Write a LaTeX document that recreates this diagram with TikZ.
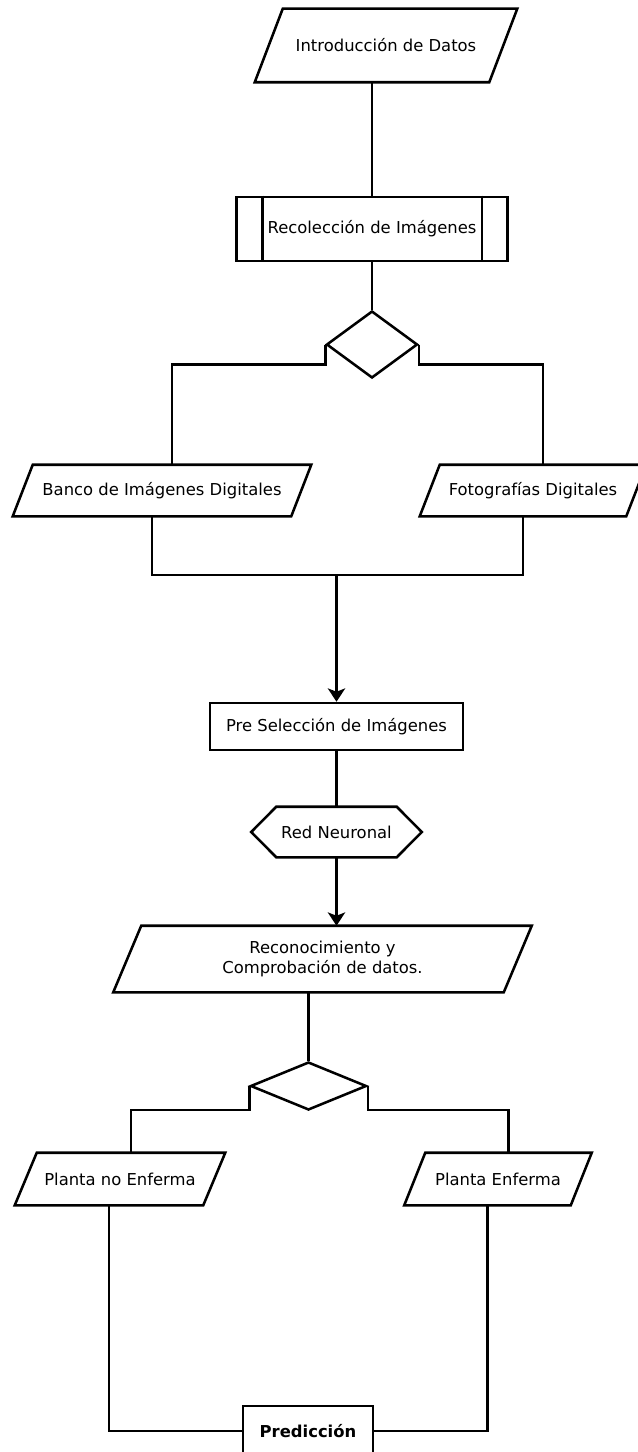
\documentclass[tikz,border=0pt]{standalone}
\usepackage{fontspec}
\setmainfont{DejaVu Sans}
\usetikzlibrary{arrows.meta,calc,shapes.geometric}

% Outline of a data (parallelogram) block around a text node, plus the
% midpoints of its top and bottom edges as name-t and name-b.
\newcommand\paraoutline[2]{%
  \draw[ln] ($(#1.north west)+(#2,0)$) -- ($(#1.north east)+(#2,0)$)
    -- ($(#1.south east)+(-#2,0)$) -- ($(#1.south west)+(-#2,0)$) -- cycle;
  \coordinate (#1-t) at ($(#1.north)+(#2,0)$);
  \coordinate (#1-b) at ($(#1.south)+(-#2,0)$);}

\begin{document}
\begin{tikzpicture}[x=0.75pt,y=-0.75pt,
  every node/.style={font=\fontsize{12.3}{15}\selectfont, inner sep=0pt, align=center},
  ln/.style={line width=1.9pt, line join=miter},
  arr/.style={ln, -{Stealth[length=10pt,width=13pt,inset=2.5pt]}},
  box/.style={draw, line width=1.9pt},
  decision/.style={draw, line width=1.9pt, shape=diamond},
]
\useasboundingbox (0,0) rectangle (638,1452);
\fill[white] (0,0) rectangle (638,1452);

% blocks
\node[minimum width=175.5pt, minimum height=54.75pt] (intro) at (386,45.5) {Introducción de Datos};
\paraoutline{intro}{14}

\node[box, minimum width=203.25pt, minimum height=48pt] (reco) at (372,229) {Recolección de Imágenes};
\draw[ln] ($(reco.north west)+(27,0)$) -- ($(reco.south west)+(27,0)$);
\draw[ln] ($(reco.north east)+(-27,0)$) -- ($(reco.south east)+(-27,0)$);

\node[decision, minimum width=68.25pt, minimum height=50.25pt] (d1) at (372,344.5) {};

\node[minimum width=208.5pt, minimum height=38.25pt] (ban) at (162,490.5) {Banco de Imágenes Digitales};
\paraoutline{ban}{10}

\node[minimum width=154.5pt, minimum height=38.25pt] (foto) at (533,490.5) {Fotografías Digitales};
\paraoutline{foto}{10}

\coordinate (j1) at (336.5,575);

\node[box, minimum width=189.75pt, minimum height=35.25pt] (pre) at (336.5,726.5) {Pre Selección de Imágenes};

\node[minimum width=127.5pt, minimum height=37.5pt] (red) at (336.5,832) {Red Neuronal};
\draw[ln] (red.west) -- ($(red.north west)+(25,0)$) -- ($(red.north east)+(-25,0)$)
  -- (red.east) -- ($(red.south east)+(-25,0)$) -- ($(red.south west)+(25,0)$) -- cycle;

\node[minimum width=292.5pt, minimum height=49.5pt] (rec) at (322.5,959) {Reconocimiento y\\Comprobación de datos.};
\paraoutline{rec}{14}

\node[decision, minimum width=87pt, minimum height=36pt] (d2) at (308.5,1086) {};

\node[minimum width=141pt, minimum height=39pt] (pno) at (120,1179) {Planta no Enferma};
\paraoutline{pno}{11}

\node[minimum width=124.5pt, minimum height=39pt] (pen) at (498,1179) {Planta Enferma};
\paraoutline{pen}{10.5}

\node[box, minimum width=97.5pt, minimum height=37.5pt, font=\fontsize{12.3}{15}\selectfont\bfseries] (pred) at (308,1431) {Predicción};

% connectors
\draw[ln] (intro-b) -- (reco.north);
\draw[ln] (reco.south) -- (d1.north);
\draw[ln] (d1.west) -- ++(0,20) -| (ban-t);
\draw[ln] (d1.east) -- ++(0,20) -| (foto-t);
\draw[ln] (ban-b) |- (j1) -| (foto-b);
\draw[arr] (j1) -- (pre.north);
\draw[ln] (pre.south) -- (red.north);
\draw[arr] (red.south) -- (rec-t);
\draw[ln] (rec-b) -- (d2.north);
\draw[ln] (d2.west) -- ++(0,24) -| (pno-t);
\draw[ln] (d2.east) -- ++(0,24) -| (pen-t);
\draw[ln] (pno-b) |- (pred.west);
\draw[ln] (pen-b) |- (pred.east);
\end{tikzpicture}
\end{document}
